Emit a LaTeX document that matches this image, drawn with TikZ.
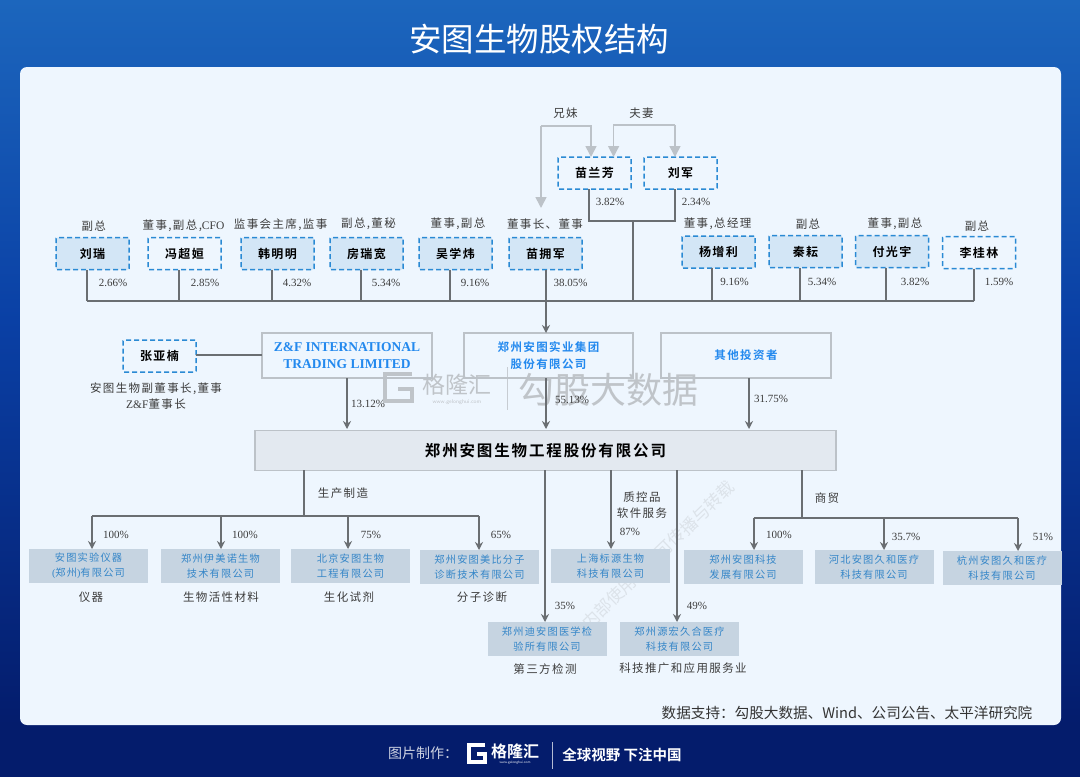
\documentclass[tikz,border=0pt]{standalone}
\usepackage{fontspec}
\setmainfont{Liberation Serif}
\newfontfamily\cjk[BoldFont={Noto Sans CJK SC Bold}]{Noto Sans CJK SC}
\newfontfamily\cjks[LetterSpace=12,BoldFont={Noto Sans CJK SC Bold}]{Noto Sans CJK SC}
\newfontfamily\lat{Liberation Serif}
\usetikzlibrary{arrows.meta,calc}
\definecolor{panel}{HTML}{EEF6FE}
\definecolor{dashblue}{HTML}{2A8AD4}
\definecolor{lightblue}{HTML}{D3E6F6}
\definecolor{linegray}{HTML}{6A6E72}
\definecolor{softgray}{HTML}{BCC2C8}
\definecolor{subfill}{HTML}{C6D4E1}
\definecolor{subtext}{HTML}{3586C8}
\definecolor{linktext}{HTML}{2389EE}
\definecolor{labeltext}{HTML}{3C3C3C}
\definecolor{navy}{HTML}{041C6C}
\definecolor{topblue}{HTML}{1C66BD}
\definecolor{midblue}{HTML}{0A40A5}
\definecolor{mainfill}{HTML}{E3E9F0}
\tikzset{
 x=1pt,y=-1pt,
 every node/.style={inner sep=0pt,outer sep=0pt,align=center},
 person/.style={draw=dashblue,line width=1.5pt,dash pattern=on 5pt off 3pt,rounded corners=1pt,minimum width=73pt,minimum height=32pt,font=\cjks\bfseries\fontsize{12}{14}\selectfont,text=black},
 held/.style={person,fill=lightblue},
 free/.style={person},
 holder/.style={draw=softgray,line width=1.1pt,fill=panel,minimum width=170pt,minimum height=45pt,text=linktext,font=\cjks\bfseries\fontsize{11.5}{17}\selectfont},
 subco/.style={fill=subfill,minimum width=119pt,minimum height=34pt,text=subtext,font=\cjks\fontsize{10.2}{15}\selectfont},
 role/.style={text=labeltext,font=\cjks\fontsize{11.5}{16}\selectfont},
 trade/.style={text=labeltext,font=\cjks\fontsize{11.5}{16}\selectfont},
 pct/.style={text=labeltext,font=\lat\fontsize{11}{12}\selectfont},
 bar/.style={draw=linegray,line width=1.5pt},
 arr/.style={bar,-{Stealth[length=8pt,width=8pt]}},
 kin/.style={draw=softgray,line width=1.6pt,-{Triangle[length=11pt,width=11pt]}},
 wm/.style={text=gray,opacity=.42},
}
\begin{document}
\begin{tikzpicture}
\useasboundingbox (0,0) rectangle (1080,777);
% background
\shade[top color=topblue,bottom color=midblue] (0,0) rectangle (1080,320);
\shade[top color=midblue,bottom color=navy] (0,320) rectangle (1080,725);
\fill[navy] (0,725) rectangle (1080,777);
\fill[panel,rounded corners=7pt] (20,67) rectangle (1061,725);
\node[text=white,font=\cjk\fontsize{32.5}{36}\selectfont] (title) at (539,39) {安图生物股权结构};

% watermarks under the drawing
\draw[gray,opacity=.42,line width=4.5pt] (412,374) -- (385,374) -- (385,401) -- (412,401) -- (412,389) -- (398,389);
\node[wm,font=\cjk\fontsize{23}{25}\selectfont] (wmA) at (457,385) {格隆汇};
\node[wm,font=\sffamily\fontsize{5.5}{6}\selectfont] (wmB) at (457,402) {www.gelonghui.com};
\draw[gray,opacity=.35,line width=.6pt] (507,367) -- (507,410);
\node[wm,font=\cjk\fontsize{36}{38}\selectfont] (wmC) at (608,390) {勾股大数据};
\node[text=gray,opacity=.16,rotate=44,font=\cjk\fontsize{17}{19}\selectfont] (wmD) at (646,567) {仅供内部使用，不可传播与转载};

% persons
\foreach \n/\c/\x/\y/\s in {
 a/刘瑞/92.5/253.5/held,b/冯超姮/184.5/253.5/free,c/韩明明/277.5/253.5/held,d/房瑞宽/366.5/253.5/held,
 e/吴学炜/455.5/253.5/held,f/苗拥军/545.5/253.5/held,g/杨增利/718.5/252/held,h/秦耘/805.5/251.5/held,
 i/付光宇/892/251.5/held,j/李桂林/979/252.5/free,k/苗兰芳/594.5/173/free,l/刘军/680.5/173/free,m/张亚楠/159.5/356/free}
 {\node[\s] (\n) at (\x,\y) {\c};}

% roles
\foreach \n/\c/\x/\y in {
 ra/副总/93.7/226,rb/{董事,副总,{\lat CFO}}/183.5/226,rc/{监事会主席,监事}/280.6/225,rd/{副总,董秘}/368.5/224,
 re/{董事,副总}/458/224,rf/董事长、董事/545/224,rg/{董事,总经理}/717.6/224,rh/副总/808/224,ri/{董事,副总}/895/224,rj/副总/977/226,
 sib/兄妹/565.5/113,spo/夫妻/641.5/113}
 {\node[role] (\n) at (\x,\y) {\c};}
\node[role] (mrole) at (156,396) {安图生物副董事长,董事\\{\lat Z\&F}董事长};

% holding companies
\node[holder,fill=none,font=\lat\bfseries\fontsize{13.5}{17}\selectfont] (zf) at (347,355.5) {Z\&F INTERNATIONAL\\TRADING LIMITED};
\node[holder,fill=none,minimum width=169pt] (grp) at (548.5,355.5) {郑州安图实业集团\\股份有限公司};
\node[holder,fill=none] (oth) at (746,355.5) {其他投资者};
\node[draw=softgray,line width=1.1pt,fill=mainfill,minimum width=581pt,minimum height=39.5pt,font=\cjks\bfseries\fontsize{15.5}{18}\selectfont] (main) at (545.5,450.5) {郑州安图生物工程股份有限公司};

% kinship connectors
\coordinate (kinL) at (541,126);
\coordinate (kinA) at (541,208);
\coordinate (kinB) at (591,126);
\coordinate (kinR) at (613.6,125);
\coordinate (kinS) at (675,125);
\draw[kin] (kinL) -- (kinA);
\draw[kin] (kinL) -- (kinB) -- (kinB |- k.north);
\draw[kin] (kinS) -- (kinR) -- (kinR |- k.north);
\draw[kin] (kinS) -- (kinS |- l.north);

% bus from shareholders
\coordinate (bL) at (87,301);
\coordinate (bR) at (974,301);
\coordinate (bM) at (546,301);
\coordinate (bU) at (633,301);
\coordinate (cp) at (633,221);
\draw[bar] (bL) -- (bR);
\foreach \n/\x in {a/87,b/179,c/272,d/361,e/450,f/546,g/712,h/800,i/886,j/974}
 \draw[bar] (\n.south -| \x,0) -- (\x,301);
\draw[bar] (k.south -| 589,0) |- (cp) -| (l.south -| 675,0);
\draw[bar] (cp) -- (bU);
\draw[arr] (bM) -- (bM |- grp.north);
\draw[bar] (m.east |- 0,355) -- (zf.west |- 0,355);
\coordinate (ta) at (347,429);
\coordinate (tb) at (546,429);
\coordinate (tc) at (749,429);
\draw[arr] (zf.south -| ta) -- (ta);
\draw[arr] (grp.south -| tb) -- (tb);
\draw[arr] (oth.south -| tc) -- (tc);

% subsidiaries
\foreach \n/\c/\x/\y in {
 s1/安图实验仪器\\{\lat (}郑州{\lat )}有限公司/88.5/566,
 s2/郑州伊美诺生物\\技术有限公司/220.5/566,
 s3/北京安图生物\\工程有限公司/350.5/566,
 s4/郑州安图美比分子\\诊断技术有限公司/479.5/567,
 s5/上海标源生物\\科技有限公司/610.5/566,
 s6/郑州安图科技\\发展有限公司/743/567,
 s7/河北安图久和医疗\\科技有限公司/874/567,
 s8/杭州安图久和医疗\\科技有限公司/1002/568,
 s9/郑州迪安图医学检\\验所有限公司/547/639,
 s10/郑州源宏久合医疗\\科技有限公司/679.5/639}
 {\node[subco] (\n) at (\x,\y) {\c};}

% downstream connectors
\coordinate (lA) at (304,516);
\draw[bar] (main.south -| lA) -- (lA);
\coordinate (rA) at (802,518);
\draw[bar] (main.south -| rA) -- (rA);
\draw[bar] (92,516) -- (479,516);
\draw[bar] (753.5,518) -- (1018,518);
\foreach \n/\x/\ys in {s1/92/516,s2/221/516,s3/348/516,s4/479/516,s6/754/518,s7/884/518,s8/1018/518}
 \draw[arr] (\x,\ys) -- (\n.north -| \x,0);
\draw[arr] (main.south -| 611,0) -- (s5.north -| 611,0);
\draw[arr] (main.south -| 545,0) -- (s9.north -| 545,0);
\draw[arr] (main.south -| 677,0) -- (s10.north -| 677,0);

% percentages
\foreach \n/\c/\x/\y in {
 pa/2.66/113/283,pb/2.85/205/283,pc/4.32/297/283,pd/5.34/386/283,pe/9.16/475/283,pf/38.05/570.6/283,
 pk/3.82/610/202,pl/2.34/696/202,pg/9.16/734.5/282,ph/5.34/822/282,pi/3.82/915/282,pj/1.59/999/282,
 q1/13.12/368/404,q2/55.13/572/400,q3/31.75/771/399,
 t1/100/116/535,t2/100/245/535,t3/75/371/535,t4/65/501/535,t5/87/630/532,t6/35/565/606,t7/49/697/606,
 t8/100/779/535,t9/35.7/906/537,t10/51/1043/537}
 {\node[pct] (\n) at (\x,\y) {\c\%};}

% trade labels
\foreach \n/\c/\x/\y in {
 u1/仪器/91/597,u2/生物活性材料/221/597,u3/生化试剂/349/597,u4/分子诊断/482/597,
 u5/第三方检测/545/669,u6/科技推广和应用服务业/683/668,
 u7/生产制造/343/493,u8/商贸/827/498,u9/质控品\\软件服务/642/505}
 {\node[trade] (\n) at (\x,\y) {\c};}

% source
\node[text=black!80,font=\cjk\fontsize{14.6}{16}\selectfont] (src) at (847,713) {数据支持：勾股大数据、Wind、公司公告、太平洋研究院};

% footer
\node[text=white!80!navy,font=\cjk\fontsize{14}{16}\selectfont] (mk) at (423,753) {图片制作：};
\draw[white,line width=3.2pt] (485,745) -- (469,745) -- (469,762) -- (485,762) -- (485,754) -- (477,754);
\node[text=white,font=\cjk\bfseries\fontsize{16}{18}\selectfont] (mk2) at (515,751) {格隆汇};
\node[text=white,font=\sffamily\fontsize{3.5}{4}\selectfont] (mk3) at (515,763) {www.gelonghui.com};
\draw[white!70!navy,line width=.8pt] (552,742) -- (552,769);
\node[text=white,font=\cjk\bfseries\fontsize{14.5}{16}\selectfont] (mk4) at (622,755) {全球视野 下注中国};
\end{tikzpicture}
\end{document}
